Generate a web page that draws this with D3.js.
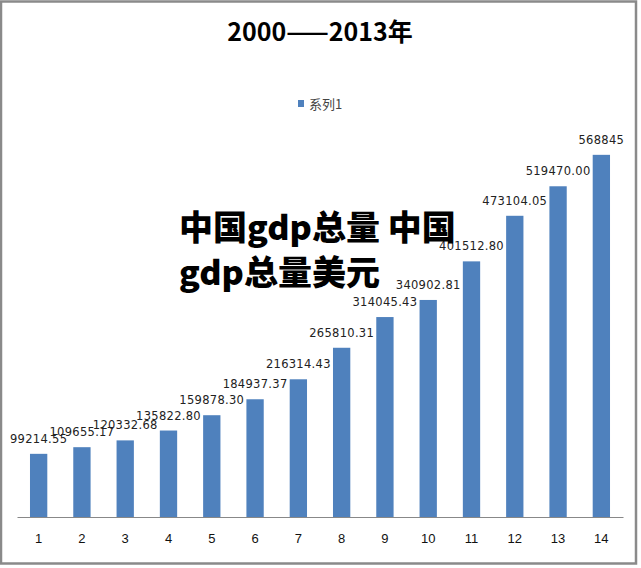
<!DOCTYPE html>
<html><head><meta charset="utf-8">
<script src="https://cdnjs.cloudflare.com/ajax/libs/d3/7.8.5/d3.min.js"></script>
<style>body{margin:0;background:#fff}svg{display:block}</style>
</head><body>
<script>
const categories = ["1","2","3","4","5","6","7","8","9","10","11","12","13","14"];
const values = [99214.55,109655.17,120332.68,135822.80,159878.30,184937.37,216314.43,265810.31,314045.43,340902.81,401512.80,473104.05,519470.00,568845];
const labels = ["99214.55","109655.17","120332.68","135822.80","159878.30","184937.37","216314.43","265810.31","314045.43","340902.81","401512.80","473104.05","519470.00","568845"];
const title = "2000——2013年";
const legendName = "系列1";
const overlay = ["中国gdp总量 中国", "gdp总量美元"];

const W = 641, H = 568;
const svg = d3.select("body").append("svg").attr("width", W).attr("height", H);
svg.append("rect").attr("x",0).attr("y",0).attr("width",W).attr("height",H).attr("fill","#fff");
// frame
svg.append("rect").attr("x",1).attr("y",1.5).attr("width",635).attr("height",562)
  .attr("fill","none").attr("stroke","#8a8a8a").attr("stroke-width",2.5);

const x = d3.scaleBand().domain(categories).range([17,623]).paddingInner(0.6).paddingOuter(0.3);
const y = d3.scaleLinear().domain([0,600000]).range([517,135]);

svg.selectAll("rect.bar").data(values).join("rect").attr("class","bar")
  .attr("x",(d,i)=>x(categories[i])).attr("width",x.bandwidth())
  .attr("y",d=>y(d)).attr("height",d=>y(0)-y(d)).attr("fill","#4f81bd");

const xAxis = d3.axisBottom(x).tickSize(0).tickPadding(17);
const gx = svg.append("g").attr("transform",`translate(0,${y(0)})`).call(xAxis);
gx.select(".domain").attr("stroke","#888").attr("stroke-width",1.2);
gx.selectAll("text").attr("font-family","Liberation Sans, Arial, sans-serif").attr("font-size",13).attr("fill","#111");

svg.selectAll("text.lbl").data(values).join("text").attr("class","lbl")
  .attr("x",(d,i)=>x(categories[i])+x.bandwidth()/2).attr("y",d=>y(d)-11)
  .attr("text-anchor","middle").attr("font-family","DejaVu Sans, sans-serif").attr("font-size",11.5)
  .attr("fill","#222").attr("letter-spacing",0.3).text((d,i)=>labels[i]);

svg.append("text").attr("x",320).attr("y",41).attr("text-anchor","middle")
  .attr("font-family","Noto Sans CJK SC, sans-serif").attr("font-weight","bold").attr("font-size",25)
  .attr("fill","#000").text(title);

// legend
svg.append("rect").attr("x",298).attr("y",100).attr("width",6).attr("height",7).attr("fill","#4f81bd");
svg.append("text").attr("x",309).attr("y",109).attr("font-family","Noto Sans CJK SC, sans-serif")
  .attr("font-size",13).attr("fill","#444").text(legendName);

// overlay watermark text
svg.selectAll("text.ov").data(overlay).join("text").attr("class","ov")
  .attr("x",179).attr("y",(d,i)=>240+i*45)
  .attr("font-family","Noto Sans CJK SC, sans-serif").attr("font-weight","900").attr("font-size",34)
  .attr("fill","#000").text(d=>d);
</script>
</body></html>
